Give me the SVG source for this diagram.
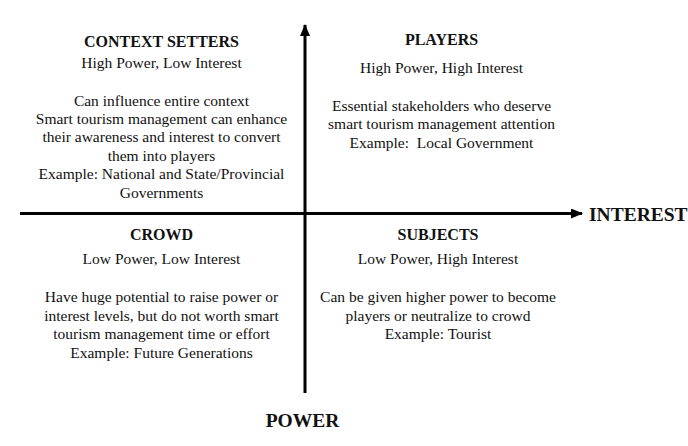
<svg xmlns="http://www.w3.org/2000/svg" width="688" height="446" viewBox="0 0 688 446">
  <style>
    text { font-family: "Liberation Serif", "Times New Roman", serif; fill: #111; text-anchor: middle; }
    .title { font-size: 16px; font-weight: bold; }
    .body { font-size: 15.5px; }
    .axis-label { font-size: 19.5px; font-weight: bold; }
    .axis { stroke: #000; stroke-width: 3; fill: none; }
  </style>
  <defs>
    <marker id="arrow" viewBox="0 0 12 10" refX="11" refY="5" markerWidth="12" markerHeight="10" markerUnits="userSpaceOnUse" orient="auto">
      <path d="M0,0 L12,5 L0,10 Z" fill="#000"/>
    </marker>
  </defs>
  <rect width="688" height="446" fill="#fff"/>

  <!-- axes -->
  <g id="connectors">
    <line class="axis" x1="305" y1="393" x2="305" y2="25" marker-end="url(#arrow)"/>
    <line class="axis" x1="20" y1="213.5" x2="582" y2="213.5" marker-end="url(#arrow)"/>
  </g>

  <g id="axis-interest">
    <text class="axis-label" x="589" y="221" style="text-anchor:start">INTEREST</text>
  </g>
  <g id="axis-power">
    <text class="axis-label" x="302.5" y="427">POWER</text>
  </g>

  <!-- quadrant: high power, low interest -->
  <g id="context-setters">
    <text class="title" x="161.5" y="47">CONTEXT SETTERS</text>
    <text class="body" x="161.5" y="68">High Power, Low Interest</text>
    <text class="body" x="161.5" y="105.5">Can influence entire context</text>
    <text class="body" x="161.5" y="123.5">Smart tourism management can enhance</text>
    <text class="body" x="161.5" y="142">their awareness and interest to convert</text>
    <text class="body" x="161.5" y="160.5">them into players</text>
    <text class="body" x="161.5" y="179">Example: National and State/Provincial</text>
    <text class="body" x="161.5" y="198">Governments</text>
  </g>

  <!-- quadrant: high power, high interest -->
  <g id="players">
    <text class="title" x="441.5" y="45">PLAYERS</text>
    <text class="body" x="441.5" y="73">High Power, High Interest</text>
    <text class="body" x="441.5" y="110.5">Essential stakeholders who deserve</text>
    <text class="body" x="441.5" y="129">smart tourism management attention</text>
    <text class="body" x="441.5" y="147.5" xml:space="preserve">Example:  Local Government</text>
  </g>

  <!-- quadrant: low power, low interest -->
  <g id="crowd">
    <text class="title" x="161.5" y="240">CROWD</text>
    <text class="body" x="161.5" y="263.5">Low Power, Low Interest</text>
    <text class="body" x="161.5" y="302">Have huge potential to raise power or</text>
    <text class="body" x="161.5" y="320.5">interest levels, but do not worth smart</text>
    <text class="body" x="161.5" y="339">tourism management time or effort</text>
    <text class="body" x="161.5" y="357.5">Example: Future Generations</text>
  </g>

  <!-- quadrant: low power, high interest -->
  <g id="subjects">
    <text class="title" x="438" y="240">SUBJECTS</text>
    <text class="body" x="438" y="263.5">Low Power, High Interest</text>
    <text class="body" x="438" y="302">Can be given higher power to become</text>
    <text class="body" x="438" y="320.5">players or neutralize to crowd</text>
    <text class="body" x="438" y="339">Example: Tourist</text>
  </g>
</svg>
